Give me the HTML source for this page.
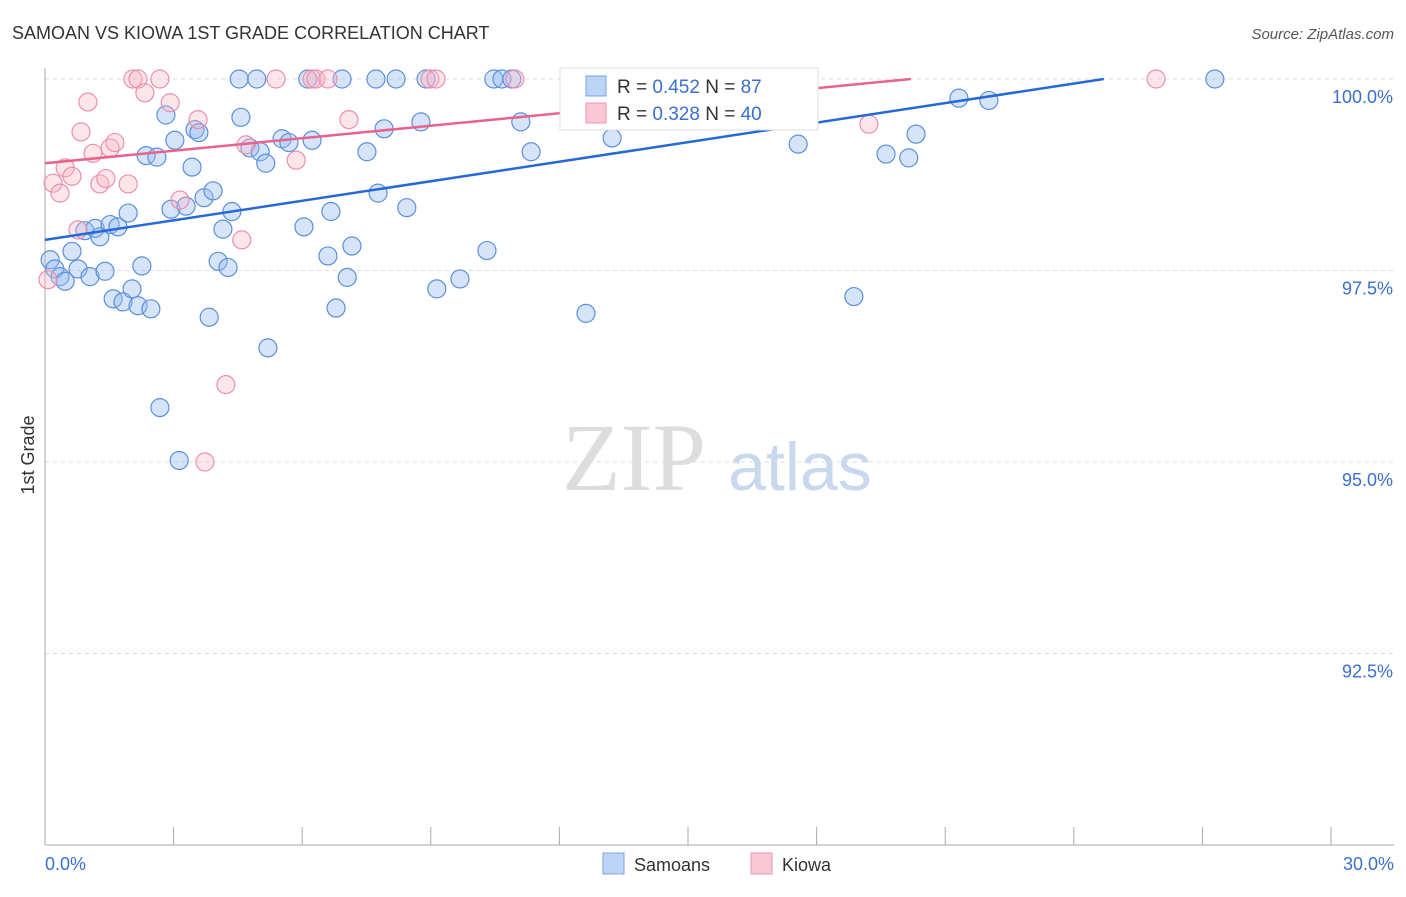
<!DOCTYPE html>
<html><head><meta charset="utf-8"><style>
body{margin:0;background:#fff;font-family:"Liberation Sans",sans-serif;}
</style></head><body>
<svg width="1406" height="892" viewBox="0 0 1406 892">
<text x="12" y="39" font-size="18" fill="#333">SAMOAN VS KIOWA 1ST GRADE CORRELATION CHART</text>
<text x="1394" y="39" font-size="15" fill="#555" font-style="italic" text-anchor="end">Source: ZipAtlas.com</text>
<text x="634" y="490" font-size="96" fill="#ddd" font-family="Liberation Serif,serif" text-anchor="middle">ZIP</text>
<text x="800" y="490" font-size="68" fill="#c8d8ee" text-anchor="middle">atlas</text>
<g id="grid"></g><g id="axes"></g><g id="pts"></g><g id="lines"></g>
<text transform="translate(34,455) rotate(-90)" font-size="18" fill="#333" text-anchor="middle">1st Grade</text>
<text x="45" y="870" font-size="18" fill="#3a6fd0">0.0%</text>
<text x="1394" y="870" font-size="18" fill="#3a6fd0" text-anchor="end">30.0%</text>
<g>
<rect x="560" y="68" width="258" height="62" fill="#fff" stroke="#ddd"/>
<rect x="586" y="76" width="20" height="20" fill="#bcd4f5" stroke="#7aa5e6"/>
<rect x="586" y="103" width="20" height="20" fill="#f9c6d4" stroke="#ee97b0"/>
<text x="617" y="93" font-size="19" fill="#333">R = <tspan fill="#3a6fd0">0.452</tspan>   N = <tspan fill="#3a6fd0">87</tspan></text>
<text x="617" y="120" font-size="19" fill="#333">R = <tspan fill="#3a6fd0">0.328</tspan>   N = <tspan fill="#3a6fd0">40</tspan></text>
</g>
<g>
<rect x="603" y="853" width="21" height="21" fill="#bcd4f5" stroke="#7aa5e6"/>
<text x="634" y="871" font-size="18" fill="#333">Samoans</text>
<rect x="751" y="853" width="21" height="21" fill="#f9c6d4" stroke="#ee97b0"/>
<text x="782" y="871" font-size="18" fill="#333">Kiowa</text>
</g>
</svg>
<script>
const yTicks=[100,97.5,95,92.5];
const yTickLabels=["100.0%","97.5%","95.0%","92.5%"];
const xTicks=[0,3,6,9,12,15,18,21,24,27,30];
const samoanX=[0.12,0.23,0.35,0.47,0.63,0.77,0.93,1.05,1.17,1.28,1.4,1.52,1.59,1.7,1.82,1.94,2.03,2.17,2.26,2.36,2.47,2.61,2.68,2.82,2.94,3.03,3.13,3.29,3.43,3.5,3.59,3.71,3.83,3.92,4.04,4.15,4.27,4.36,4.53,4.57,4.78,4.94,5.02,5.15,5.2,5.53,5.69,6.04,6.13,6.23,6.6,6.67,6.79,6.93,7.05,7.16,7.51,7.72,7.77,7.91,8.19,8.44,8.77,8.89,9.14,9.68,10.31,10.47,10.66,10.89,11.1,11.34,12.34,12.62,13.23,13.97,14.95,17.57,18.87,19.62,20.15,20.32,21.32,22.02,27.29];
const samoanY=[97.64,97.52,97.42,97.36,97.75,97.52,98.02,97.42,98.05,97.94,97.49,98.1,97.13,98.07,97.09,98.25,97.26,97.04,97.56,99.0,97.0,98.98,95.71,99.53,98.3,99.2,95.02,98.34,98.85,99.34,99.3,98.45,96.89,98.54,97.62,98.04,97.54,98.27,100,99.5,99.1,100,99.05,98.9,96.49,99.22,99.17,98.07,100,99.2,97.69,98.27,97.01,100,97.41,97.82,99.05,100,98.51,99.35,100,98.32,99.44,100,97.26,97.39,97.76,100,100,100,99.44,99.05,100,96.94,99.23,100,100,99.15,97.16,99.02,98.97,99.28,99.75,99.72,100];
const kiowaX=[0.07,0.19,0.35,0.47,0.63,0.77,0.84,1.0,1.12,1.28,1.42,1.52,1.63,1.94,2.05,2.17,2.33,2.68,2.92,3.15,3.57,3.73,4.22,4.59,4.69,5.39,5.86,6.23,6.32,6.6,7.09,8.98,9.12,10.96,17.14,19.22,25.92];
const kiowaY=[97.38,98.64,98.51,98.84,98.73,98.03,99.31,99.7,99.03,98.63,98.7,99.1,99.17,98.63,100,100,99.82,100,99.69,98.42,99.47,95.0,96.01,97.9,99.14,100,98.94,100,100,100,99.47,100,100,100,99.47,99.41,100];
const samoanTrend=[[0,97.9],[24.7,100]];
const kiowaTrend=[[0,98.9],[20.2,100]];
const sx=v=>45+v*(1286/30), sy=v=>79+(100-v)*76.6;
const NS="http://www.w3.org/2000/svg";
function mk(t,a,p){const e=document.createElementNS(NS,t);for(const k in a)e.setAttribute(k,a[k]);p.appendChild(e);return e;}
const grid=document.getElementById('grid'),axes=document.getElementById('axes'),pts=document.getElementById('pts'),lines=document.getElementById('lines');
yTicks.forEach((t,i)=>{
 const g=mk('line',{x1:45,x2:1394,y1:sy(t),y2:sy(t),stroke:'#ddd','stroke-dasharray':'4,4'},grid);
 
 
 const l=mk('text',{x:1393,y:sy(t)+24,'font-size':18,fill:'#3a6fd0','text-anchor':'end'},grid);
 l.textContent=yTickLabels[i];
 
 
});
const ya=mk('line',{x1:45,x2:45,y1:68,y2:845,stroke:'#aaa'},axes);


const xa=mk('line',{x1:45,x2:1394,y1:845,y2:845,stroke:'#aaa'},axes);


xTicks.forEach(t=>{
 const k=mk('line',{x1:sx(t),x2:sx(t),y1:827,y2:845,stroke:'#aaa'},axes);
 
 
});
samoanX.forEach((x,i)=>{
 const c=mk('circle',{cx:sx(x),cy:sy(samoanY[i]),r:9,fill:'rgba(150,188,240,0.4)',stroke:'#5b8fdc','stroke-width':1.2},pts);
 
 
});
kiowaX.forEach((x,i)=>{
 const c=mk('circle',{cx:sx(x),cy:sy(kiowaY[i]),r:9,fill:'rgba(248,180,200,0.35)',stroke:'#eb8fab','stroke-width':1.2},pts);
 
 
});
const l1=mk('line',{x1:sx(samoanTrend[0][0]),y1:sy(samoanTrend[0][1]),x2:sx(samoanTrend[1][0]),y2:sy(samoanTrend[1][1]),stroke:'#2469d6','stroke-width':2.5},lines);


const l2=mk('line',{x1:sx(kiowaTrend[0][0]),y1:sy(kiowaTrend[0][1]),x2:sx(kiowaTrend[1][0]),y2:sy(kiowaTrend[1][1]),stroke:'#e8628c','stroke-width':2.5},lines);


</script>
</body></html>
